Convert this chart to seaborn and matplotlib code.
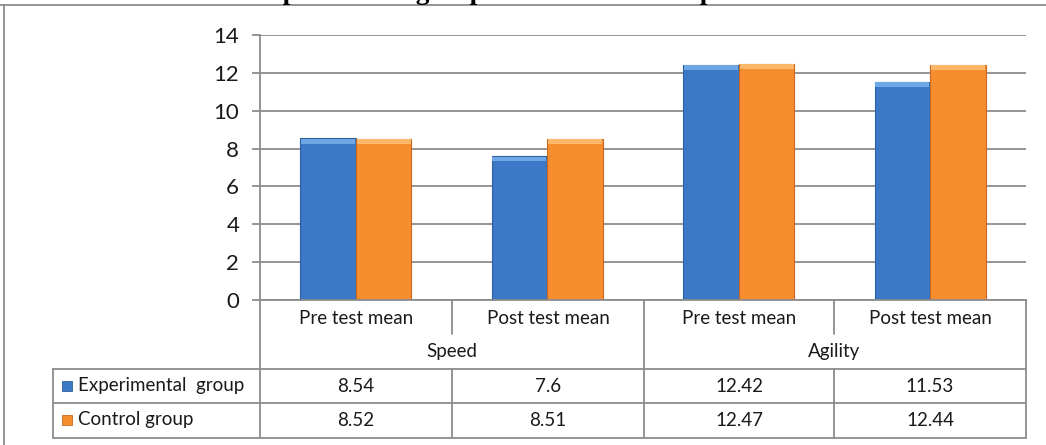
import matplotlib
matplotlib.use("Agg")
import matplotlib.pyplot as plt
from matplotlib.lines import Line2D
from matplotlib.patches import Rectangle
import seaborn as sns
import pandas as pd

# data
tests = ["Speed", "Agility"]
stages = ["Pre test mean", "Post test mean"]
groups = ["Experimental  group", "Control group"]
experimental = [8.54, 7.6, 12.42, 11.53]
control = [8.52, 8.51, 12.47, 12.44]
yticks = [0, 2, 4, 6, 8, 10, 12, 14]

slots = [f"{t} {s}" for t in tests for s in stages]
df = pd.DataFrame({
    "slot": slots * 2,
    "value": experimental + control,
    "group": [groups[0]] * 4 + [groups[1]] * 4,
})

blue = "#3b78c6"
orange = "#f68e2f"
blue_hi = "#6fa6e6"
orange_hi = "#fbb869"
grid_c = "#8c8c8c"
text_c = "#1a1a1a"

sns.set_style("white")
plt.rcParams["font.family"] = ["Lato", "DejaVu Sans"]

W, H = 1046, 445
fig = plt.figure(figsize=(W / 100, H / 100), dpi=100)

def fx(px):
    return px / W

def fy(py):
    return 1 - py / H

# plot area in pixels
x0, x1, ytop, ybot = 260, 1026, 35, 300
ax = fig.add_axes([fx(x0), fy(ybot), fx(x1 - x0), (ybot - ytop) / H])

sns.barplot(data=df, x="slot", y="value", hue="group", order=slots,
            hue_order=groups, palette=[blue, orange], width=0.58,
            saturation=1, ax=ax, legend=False)
bars = list(ax.patches)
for i, p in enumerate(bars):
    p.set_edgecolor("#2e5f9e" if i < 4 else "#c8691f")
    p.set_linewidth(0.8)
    # light bevel along the top of each bar
    ax.add_patch(Rectangle((p.get_x() + 0.004, p.get_height() - 0.28),
                           p.get_width() - 0.008, 0.26,
                           facecolor=blue_hi if i < 4 else orange_hi,
                           edgecolor="none", zorder=p.get_zorder() + 0.1))

ax.set_ylim(0, 14)
ax.set_xlim(-0.5, 3.5)
ax.set_yticks(yticks)
ax.set_yticklabels([str(v) for v in yticks], fontsize=16, color=text_c)
ax.set_xticks([])
ax.set_xlabel("")
ax.set_ylabel("")
ax.yaxis.grid(True, color=grid_c, linewidth=1.3)
ax.set_axisbelow(True)
ax.tick_params(axis="y", length=6, width=1.3, color=grid_c, pad=9, left=True)
for side in ["top", "right"]:
    ax.spines[side].set_visible(False)
for side in ["left", "bottom"]:
    ax.spines[side].set_color(grid_c)
    ax.spines[side].set_linewidth(1.3)
ax.spines["bottom"].set_zorder(5)

# data table under the chart
def hline(y, xa, xb):
    fig.add_artist(Line2D([fx(xa), fx(xb)], [fy(y), fy(y)], color=grid_c, lw=1.3))

def vline(x, ya, yb):
    fig.add_artist(Line2D([fx(x), fx(x)], [fy(ya), fy(yb)], color=grid_c, lw=1.3))

rows = [300, 338, 369, 403, 438]
cols = [53, 260, 452, 644, 834, 1026]
for y in rows[2:]:
    hline(y, cols[0], cols[-1])
for x in [cols[1], cols[3], cols[5]]:
    vline(x, rows[0], rows[-1])
vline(cols[0], rows[2], rows[-1])
for x in [cols[2], cols[4]]:
    vline(x, rows[0], 334)
    vline(x, rows[2], rows[-1])

fs = 13.5
for i in range(4):
    cx = (cols[i + 1] + cols[i + 2]) / 2
    fig.text(fx(cx), fy(318), stages[i % 2], ha="center", va="center",
             fontsize=fs, color=text_c)
    fig.text(fx(cx), fy(386), f"{experimental[i]:g}", ha="center", va="center",
             fontsize=fs, color=text_c)
    fig.text(fx(cx), fy(420), f"{control[i]:g}", ha="center", va="center",
             fontsize=fs, color=text_c)
for j, t in enumerate(tests):
    cx = cols[1 + 2 * j + 1]
    fig.text(fx(cx), fy(352), t, ha="center", va="center", fontsize=fs, color=text_c)

for ry, g, c, ec in [(386, groups[0], blue, "#2e5f9e"), (420, groups[1], orange, "#c8691f")]:
    fig.add_artist(Rectangle((fx(62), fy(ry + 5)), fx(10), 10 / H, facecolor=c,
                             edgecolor=ec, lw=0.6))
    fig.text(fx(78), fy(ry), g, ha="left", va="center", fontsize=fs, color=text_c)

# outer frame (left and top)
fig.add_artist(Line2D([fx(4), fx(4)], [fy(5), 0], color=grid_c, lw=1.3))
fig.add_artist(Line2D([0, 1], [fy(5), fy(5)], color=grid_c, lw=1.3))

# title, mostly cut off at the top edge in the original
fig.text(fx(251), fy(-1), "Experimental group and Control Groups", ha="left",
         va="baseline", fontsize=19.5, fontweight="bold",
         family=["Liberation Serif", "DejaVu Serif"], color="black")

fig.savefig("out.png", dpi=100)
